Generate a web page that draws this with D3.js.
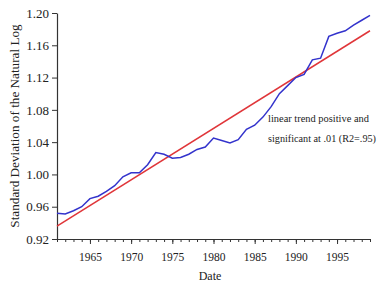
<!DOCTYPE html>
<html>
<head>
<meta charset="utf-8">
<script src="https://cdn.jsdelivr.net/npm/d3@7"></script>
<style>
  body { margin: 0; background: #fff; }
  svg text { font-family: "Liberation Serif", "DejaVu Serif", serif; fill: #222; }
</style>
</head>
<body>
<svg id="chart" width="383" height="284"></svg>
<script>
// years on the x axis
const years = d3.range(1961, 2000);
// standard deviation of the natural log
const sdValues = [0.952, 0.951, 0.955, 0.960, 0.970, 0.973, 0.979, 0.986, 0.997, 1.002,
  1.002, 1.012, 1.027, 1.025, 1.020, 1.021, 1.025, 1.031, 1.034, 1.045,
  1.042, 1.039, 1.043, 1.056, 1.061, 1.071, 1.084, 1.100, 1.110, 1.120,
  1.124, 1.142, 1.144, 1.171, 1.175, 1.178, 1.185, 1.191, 1.197];
// linear trend end points
const trendYears = [1961, 1999];
const trendValues = [0.936, 1.178];
const yTicks = [0.92, 0.96, 1.00, 1.04, 1.08, 1.12, 1.16, 1.20];
const xTicks = [1965, 1970, 1975, 1980, 1985, 1990, 1995];

const svg = d3.select('#chart');
const margin = { top: 13, left: 57, right: 13, bottom: 45 };
const width = 383, height = 284;

const xScale = d3.scaleLinear()
  .domain([1961, 1999])
  .range([margin.left, width - margin.right]);
const yScale = d3.scaleLinear()
  .domain([0.92, 1.20])
  .range([height - margin.bottom, margin.top]);

// minor year ticks
svg.append('g')
  .attr('transform', `translate(0, ${yScale(0.92)})`)
  .call(d3.axisBottom(xScale).tickValues(d3.range(1961, 2000)).tickSize(3).tickFormat(''))
  .call(g => g.select('.domain').remove())
  .selectAll('line').attr('stroke', '#333');

// main x axis with labels
svg.append('g')
  .attr('id', 'x-axis')
  .attr('transform', `translate(0, ${yScale(0.92)})`)
  .call(d3.axisBottom(xScale).tickValues(xTicks).tickSize(5).tickSizeOuter(0).tickPadding(9).tickFormat(d3.format('d')))
  .call(g => g.select('.domain').attr('stroke', '#333').attr('stroke-width', 1.2))
  .call(g => g.selectAll('line').attr('stroke', '#333'))
  .selectAll('text').attr('font-size', 11.5).attr('font-family', '"Liberation Serif", serif');

svg.append('g')
  .attr('id', 'y-axis')
  .attr('transform', `translate(${margin.left}, 0)`)
  .call(d3.axisLeft(yScale).tickValues(yTicks).tickSize(5).tickSizeOuter(0).tickPadding(3).tickFormat(d3.format('.2f')))
  .call(g => g.select('.domain').attr('stroke', '#333').attr('stroke-width', 1.2))
  .call(g => g.selectAll('line').attr('stroke', '#333'))
  .selectAll('text').attr('font-size', 13).attr('font-family', '"Liberation Serif", serif');

// axis titles
svg.append('text')
  .text('Date')
  .attr('x', 210)
  .attr('y', 280)
  .attr('text-anchor', 'middle')
  .attr('font-size', 12);

svg.append('text')
  .text('Standard Deviation of the Natural Log')
  .attr('transform', `translate(19, ${(yScale(0.92) + yScale(1.20)) / 2}) rotate(-90)`)
  .attr('text-anchor', 'middle')
  .attr('font-size', 13.2);

// trend line
const trendData = trendYears.map((y, i) => ({ year: y, value: trendValues[i] }));
const lineGenerator = d3.line()
  .x(d => xScale(d.year))
  .y(d => yScale(d.value));

svg.append('path')
  .datum(trendData)
  .attr('fill', 'none')
  .attr('stroke', '#e0363a')
  .attr('stroke-width', 1.5)
  .attr('d', lineGenerator);

// data line
const sdData = years.map((y, i) => ({ year: y, value: sdValues[i] }));
svg.append('path')
  .datum(sdData)
  .attr('fill', 'none')
  .attr('stroke', '#3333cc')
  .attr('stroke-width', 1.5)
  .attr('d', lineGenerator);

// annotation
const note = svg.append('text')
  .attr('font-size', 10.5);
note.append('tspan').attr('x', 268).attr('y', 122)
  .attr('textLength', 101).attr('lengthAdjust', 'spacingAndGlyphs')
  .text('linear trend positive and');
note.append('tspan').attr('x', 268).attr('y', 142)
  .attr('textLength', 108).attr('lengthAdjust', 'spacingAndGlyphs')
  .text('significant at .01 (R2=.95)');
</script>
</body>
</html>
